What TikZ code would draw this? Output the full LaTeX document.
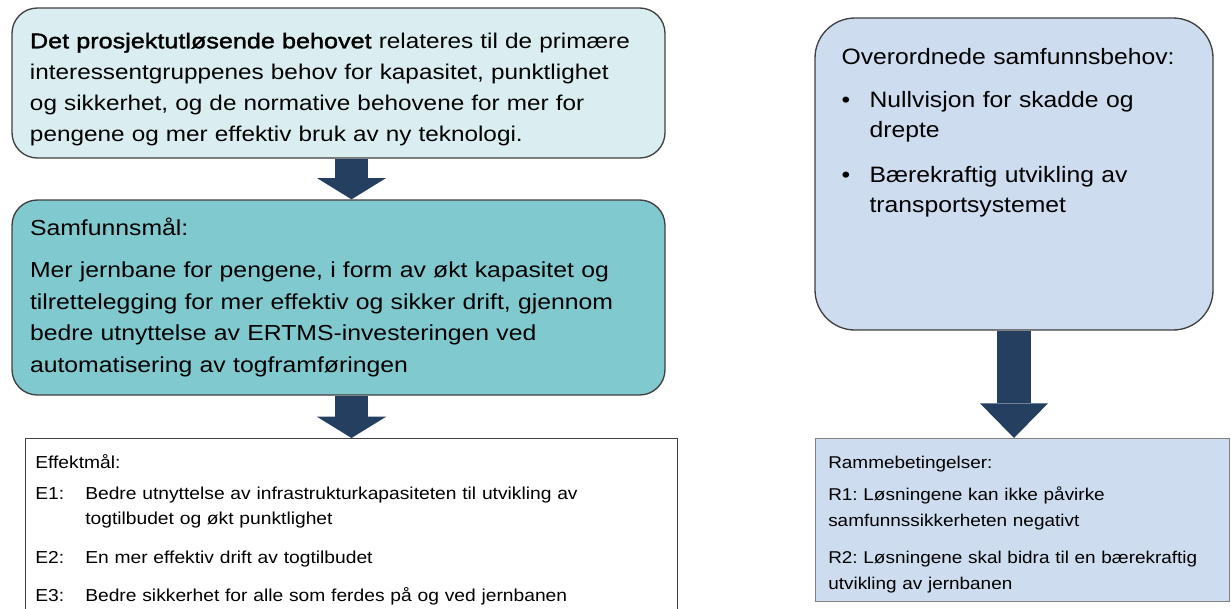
\documentclass[tikz,border=0pt]{standalone}
\usepackage{fontspec}
\setmainfont{Liberation Sans}
\newfontfamily\brodfont{Liberation Sans}[FakeStretch=1.14]
\newfontfamily\halvfetfont{Liberation Sans}[FakeStretch=1.18,FakeBold=1.6]
\newfontfamily\listefont{Liberation Sans}[FakeStretch=1.11]
\usetikzlibrary{arrows.meta,positioning}

\definecolor{behovfill}{RGB}{218,238,242}
\definecolor{maalfill}{RGB}{128,202,207}
\definecolor{samffill}{RGB}{205,221,239}
\definecolor{pilblaa}{RGB}{36,63,96}
\definecolor{kantgraa}{RGB}{64,64,64}

\begin{document}
\frenchspacing
\begin{tikzpicture}[x=0.75pt,y=-0.75pt,
  every node/.style={align=left,inner sep=0pt},
  rundboks/.style={draw=kantgraa,line width=1pt,rounded corners=19pt},
  listeboks/.style={draw=kantgraa,line width=0.8pt},
  storpil/.style={draw=pilblaa,line width=24.75pt,-{Triangle[width=52pt,length=16pt,line width=0pt]}}]
\useasboundingbox (0,0) rectangle (1231,608);

% venstre kolonne
\node[rundboks,fill=behovfill,minimum width=489.75pt,minimum height=112.5pt,text width=462.75pt,
      font=\brodfont\fontsize{16}{23.25}\selectfont] (behov) at (338.5,83)
  {\rule{0pt}{21pt}{\halvfetfont Det prosjektutløsende behovet} relateres til de primære\\
   interessentgruppenes behov for kapasitet, punktlighet\\
   og sikkerhet, og de normative behovene for mer for\\
   pengene og mer effektiv bruk av ny teknologi.};
\node[rundboks,fill=maalfill,minimum width=489.75pt,minimum height=146.25pt,text width=462.75pt,
      font=\brodfont\fontsize{16.3}{23.6}\selectfont] (maal) at (338.5,297.5)
  {Samfunnsmål:\\[8pt]
   Mer jernbane for pengene, i form av økt kapasitet og\\
   tilrettelegging for mer effektiv og sikker drift, gjennom\\
   bedre utnyttelse av ERTMS-investeringen ved\\
   automatisering av togframføringen};
\node[listeboks,fill=white,minimum width=489pt,minimum height=140pt,anchor=north west] (effekt) at (25,438) {};
\node[anchor=base west,text width=475pt,font=\listefont\fontsize{13}{18.75}\selectfont] (effekttekst)
      at ([xshift=7.5pt,yshift=-22.5pt]effekt.north west)
  {Effektmål:\\[4.5pt]
   \makebox[37.5pt][l]{E1:}Bedre utnyttelse av infrastrukturkapasiteten til utvikling av\\
   \hspace*{37.5pt}togtilbudet og økt punktlighet\\[10.5pt]
   \makebox[37.5pt][l]{E2:}En mer effektiv drift av togtilbudet\\[9.75pt]
   \makebox[37.5pt][l]{E3:}Bedre sikkerhet for alle som ferdes på og ved jernbanen};

% høyre kolonne
\node[rundboks,rounded corners=30pt,fill=samffill,minimum width=298.5pt,minimum height=234pt] (samf) at (1014,174) {};
\node[anchor=base west,text width=280pt,font=\listefont\fontsize{16.7}{22.5}\selectfont] (samftekst)
      at ([xshift=20.25pt,yshift=-35.5pt]samf.north west)
  {Overordnede samfunnsbehov:\\[9.75pt]
   \makebox[21pt][l]{•}Nullvisjon for skadde og\\
   \hspace*{21pt}drepte\\[11.25pt]
   \makebox[21pt][l]{•}Bærekraftig utvikling av\\
   \hspace*{21pt}transportsystemet};
\node[listeboks,draw=gray,fill=samffill,minimum width=310.5pt,minimum height=122.25pt,anchor=north west] (ramme) at (815,438) {};
\node[anchor=base west,text width=300pt,font=\listefont\fontsize{12.8}{19.5}\selectfont] (rammetekst)
      at ([xshift=9.75pt,yshift=-22.5pt]ramme.north west)
  {Rammebetingelser:\\[4.5pt]
   R1: Løsningene kan ikke påvirke\\
   samfunnssikkerheten negativt\\[8.5pt]
   R2: Løsningene skal bidra til en bærekraftig\\
   utvikling av jernbanen};

% piler
\draw[storpil] (behov.south -| effekt.north) -- (maal.north -| effekt.north);
\draw[storpil] (maal.south -| effekt.north) -- (effekt.north);
\draw[storpil,line width=26pt,-{Triangle[width=51pt,length=26pt,line width=0pt]}] (samf.south) -- (samf.south |- ramme.north);
\end{tikzpicture}
\end{document}
